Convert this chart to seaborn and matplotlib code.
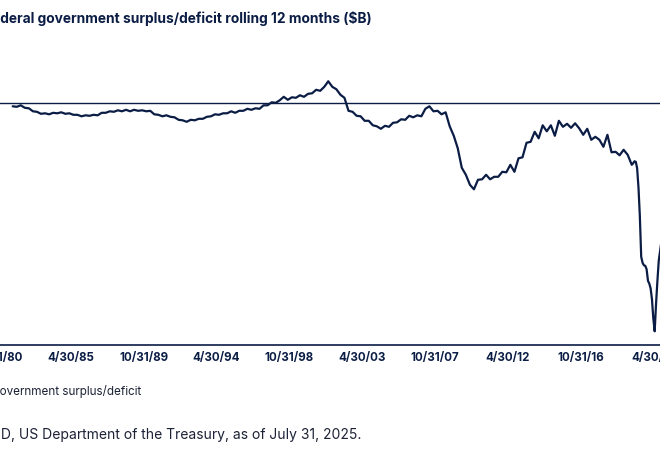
import matplotlib
matplotlib.use("Agg")
import matplotlib.pyplot as plt
import matplotlib.dates as mdates
import seaborn as sns
import pandas as pd

# Rolling 12-month federal surplus/deficit ($B).
# Quarterly from Sep 1981 to Dec 2019, then monthly through Oct 2021.
quarterly_values = [
    -60, -70, -40, -90, -100, -160, -170, -210, -200, -220,
    -190, -200, -180, -210, -200, -230, -230, -260, -240, -250,
    -230, -240, -190, -190, -160, -170, -140, -160, -130, -160,
    -130, -150, -140, -160, -150, -220, -230, -260, -240, -270,
    -280, -330, -340, -370, -330, -340, -310, -310, -270, -260,
    -220, -230, -200, -200, -160, -190, -150, -150, -110, -130,
    -100, -110, -40, -40, 20, 10, 60, 130, 70, 120,
    110, 160, 130, 190, 200, 270, 250, 330, 440, 330,
    280, 170, 110, -150, -170, -250, -260, -350, -350, -440,
    -460, -510, -450, -470, -390, -380, -320, -330, -250, -280,
    -240, -260, -110, -60, -160, -150, -220, -180, -460, -650,
    -900, -1290, -1430, -1630, -1720, -1530, -1520, -1430, -1520, -1470,
    -1470, -1370, -1380, -1230, -1370, -1100, -1080, -790, -770, -570,
    -700, -440, -560, -440, -650, -350, -470, -410, -490, -400,
    -500, -630, -510, -730, -670, -730, -870, -630, -980, -970,
    -1040, -930, -1030, -1230,
]
monthly_values = [
    -1200, -1160, -1170, -1300, -1690, -2250, -3070, -3190, -3240, -3250,
    -3320, -3550, -3610, -3700, -3920, -4300, -4560, -4030, -3560, -3150,
    -2960, -2750,
]
tick_labels = ["10/31/80", "4/30/85", "10/31/89", "4/30/94", "10/31/98",
               "4/30/03", "10/31/07", "4/30/12", "10/31/16", "4/30/21"]

title = "Federal government surplus/deficit rolling 12 months ($B)"
series_name = "Federal government surplus/deficit"
source = "Source: FRED, US Department of the Treasury, as of July 31, 2025."

navy = "#0b1d45"
grey_text = "#1c2236"

# Building the table for seaborn.
dates = list(pd.date_range("1981-09-30", "2019-12-31", freq="QE")) + \
        list(pd.date_range("2020-01-31", "2021-10-31", freq="ME"))
df = pd.DataFrame({"date": dates, "value": quarterly_values + monthly_values})

sns.set_theme(style="white")
plt.rcParams["font.family"] = ["Inter", "DejaVu Sans"]

W, H = 660, 454
fig = plt.figure(figsize=(W / 100, H / 100), dpi=100)
renderer = fig.canvas.get_renderer()


def fitted_size(text, target_px, **kw):
    """Font size at which `text` is target_px wide (the reference is cropped)."""
    probe = fig.text(0, 0, text, fontsize=10, **kw)
    width = probe.get_window_extent(renderer).width
    probe.remove()
    return 10 * target_px / width


# The reference is a crop of a wider chart, so the axes run past the figure edges.
ax = fig.add_axes([-40 / W, (H - 345.3) / H, 740 / W, 300 / H])

sns.lineplot(data=df, x="date", y="value", ax=ax, color=navy, linewidth=1.6)
ax.axhline(0, color=navy, linewidth=1.0, zorder=1)

tick_dates = pd.to_datetime(tick_labels, format="%m/%d/%y")
d0 = mdates.date2num(tick_dates[0])
d1 = mdates.date2num(tick_dates[-1])
px_per_day = (653.3 + 2.1) / (d1 - d0)   # tick spacing measured on the picture
ax.set_xlim(d0 - (40 - 2.1) / px_per_day, d0 + (700 + 2.1) / px_per_day)
ax.set_ylim(-4840, 1160)

tick_size = fitted_size("4/30/85", 46.7, fontweight="bold")
ax.set_xticks(tick_dates)
ax.set_xticklabels(tick_labels, fontsize=tick_size, fontweight="bold", color=navy)
ax.tick_params(axis="x", direction="in", length=2.5, width=1, color=navy, pad=5)
ax.set_yticks([])
ax.set_xlabel("")
ax.set_ylabel("")

for side in ["left", "top", "right"]:
    ax.spines[side].set_visible(False)
ax.spines["bottom"].set_color(navy)
ax.spines["bottom"].set_linewidth(1.2)

# Title, legend text and source, clipped at the left like the reference.
size = fitted_size("deral government surplus/deficit rolling 12 months ($B)", 372,
                   fontweight="bold")
fig.text(372 / W, 1 - 19 / H, title, ha="right", va="center",
         fontsize=size, fontweight="bold", color=navy)

size = fitted_size("overnment surplus/deficit", 142)
fig.text(141 / W, 1 - 392 / H, series_name, ha="right", va="center",
         fontsize=size, color=grey_text)

size = fitted_size("D, US Department of the Treasury, as of July 31, 2025.", 361)
fig.text(361 / W, 1 - 435 / H, source, ha="right", va="center",
         fontsize=size, color=grey_text)

fig.savefig("out.png", dpi=100)
